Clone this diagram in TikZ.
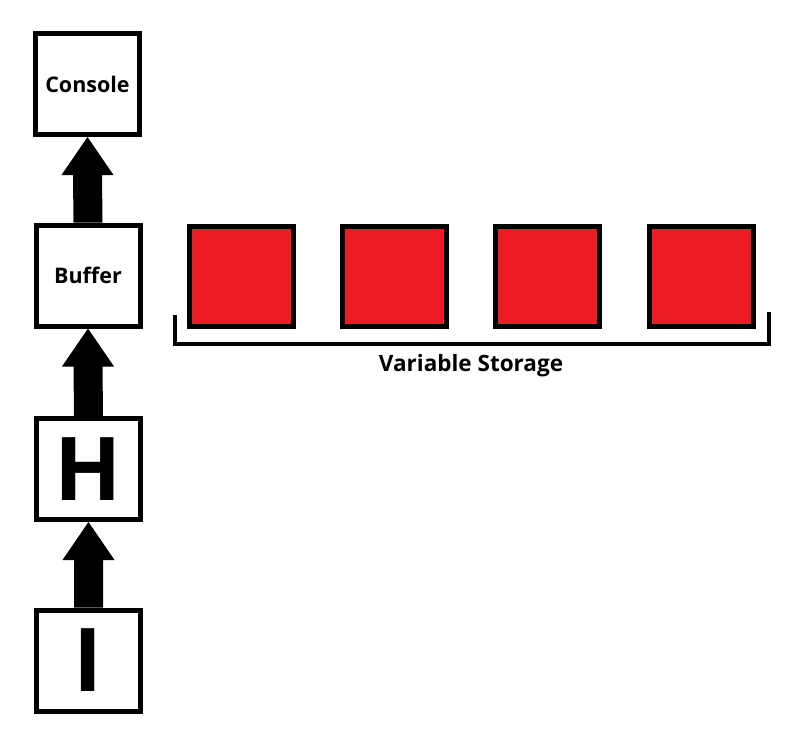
\documentclass[tikz,border=0pt]{standalone}
\usepackage{fontspec}
\setmainfont{Open Sans}
\usetikzlibrary{calc}
\definecolor{paintred}{HTML}{ED1C24}
\tikzset{
  box/.style={draw=black, line width=5pt, fill=white, minimum width=104pt, minimum height=101pt, inner sep=0pt, font=\bfseries\fontsize{21.5}{26}\selectfont},
  bigletter/.style={box, font=\bfseries\fontsize{88}{94}\selectfont},
  cell/.style={draw=black, line width=5pt, fill=paintred, minimum width=104pt, minimum height=100pt, inner sep=0pt},
  brace/.style={draw=black, line width=4pt, line join=miter},
  fatarrow/.style={fill=black, draw=none},
}
\newcommand{\fatup}[2]{%
  \fill[fatarrow] ($(#1.north)+(-14.5,0)$) -- ($(#2.south)+(-14.5,38)$) -- ($(#2.south)+(-26,38)$) -- (#2.south) -- ($(#2.south)+(26,38)$) -- ($(#2.south)+(14.5,38)$) -- ($(#1.north)+(14.5,0)$) -- cycle;}
\begin{document}
\begin{tikzpicture}[x=1pt,y=-1pt]
\useasboundingbox (0,0) rectangle (810,753);
\node[box] (console) at (87.5,84) {Console};
\node[box] (buffer) at (88,275.5) {Buffer};
\node[bigletter] (h) at (88.5,469) {H};
\node[bigletter] (i) at (88.5,660.5) {I};
\fatup{buffer}{console}
\fatup{h}{buffer}
\fatup{i}{h}
\node[cell] (c1) at (241.5,276.5) {};
\node[cell] (c2) at (394.5,276.5) {};
\node[cell] (c3) at (547.5,276.5) {};
\node[cell] (c4) at (701.5,276.5) {};
\coordinate (bl) at (175,315);
\coordinate (blc) at (175,344);
\coordinate (brc) at (769,344);
\coordinate (br) at (769,312);
\draw[brace] (bl) -- (blc) -- (brc) -- (br);
\node[font=\bfseries\fontsize{22.5}{27}\selectfont] (lbl) at (471,366) {Variable Storage};
\end{tikzpicture}
\end{document}
